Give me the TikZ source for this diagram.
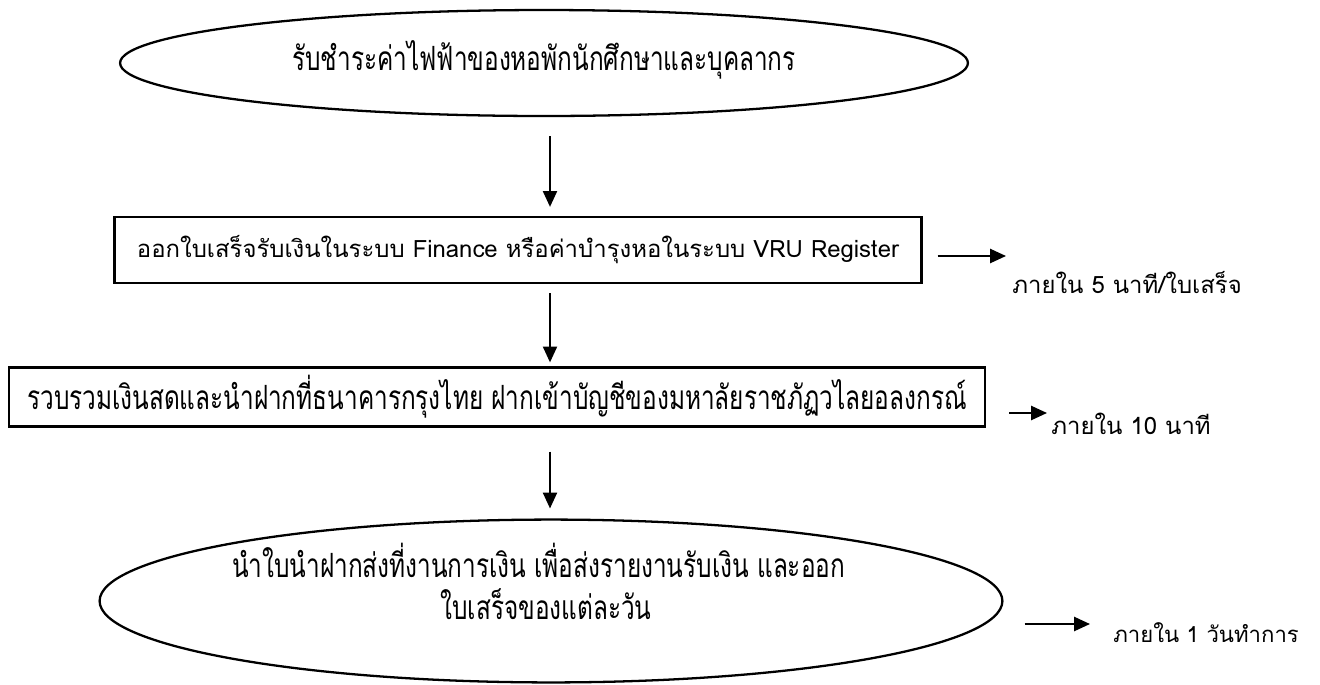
\documentclass[tikz,border=0pt]{standalone}
\usepackage{fontspec}
\setmainfont[Script=Thai]{Loma}
\newfontfamily\condthai[Script=Thai,FakeStretch=0.73]{Loma}
\usetikzlibrary{shapes.geometric,arrows.meta}
\tikzset{
  oval/.style={draw,ellipse,line width=1.3pt,inner sep=0pt,align=center,
    font=\condthai\fontsize{19}{24}\selectfont},
  stepbox/.style={draw,rectangle,line width=1.3pt,inner sep=0pt},
  note/.style={anchor=west,inner sep=0pt,font=\fontsize{13.6}{16}\selectfont},
  flow/.style={-{Triangle[length=9pt,width=8pt]},line width=1.1pt}
}
\begin{document}
\begin{tikzpicture}[x=0.02cm,y=-0.02cm]
      \useasboundingbox (0,0) rectangle (1320,684);
      \draw
        (544,63) node[oval,minimum width=16.96cm,minimum height=2.12cm,
          text depth=9pt] (start)
          {รับชำระค่าไฟฟ้าของหอพักนักศึกษาและบุคลากร}
        (518,250) node[stepbox,minimum width=16.14cm,minimum height=1.32cm,
          font=\fontsize{13.6}{16}\selectfont] (issue)
          {ออกใบเสร็จรับเงินในระบบ Finance หรือค่าบำรุงหอในระบบ VRU Register}
        (497,397) node[stepbox,minimum width=19.52cm,minimum height=1.18cm,
          font=\condthai\fontsize{19}{21}\selectfont] (deposit)
          {รวบรวมเงินสดและนำฝากที่ธนาคารกรุงไทย ฝากเข้าบัญชีของมหาลัยราชภัฏวไลยอลงกรณ์}
        (551,601) node[oval,minimum width=18.06cm,minimum height=3.1cm,
          text depth=22pt] (report)
          {นำใบนำฝากส่งที่งานการเงิน เพื่อส่งรายงานรับเงิน และออก\hspace*{0.5cm}\\
           ใบเสร็จของแต่ละวัน\hspace*{0.2cm}}
        (1012,283) node[note] (t5) {ภายใน 5 นาที/ใบเสร็จ}
        (1051,424) node[note] (t10) {ภายใน 10 นาที}
        (1113,633) node[note,font=\fontsize{12.6}{15}\selectfont] (t1d) {ภายใน 1 วันทำการ};
      \coordinate (axis) at (550,0);
      \coordinate (e5) at (1006,256);
      \coordinate (e10) at (1047,413);
      \coordinate (e1d) at (1090,624);
      \begin{scope}[flow]
        \draw[shorten <=0.38cm,shorten >=0.18cm] (start.south -| axis) to (issue.north -| axis);
        \draw[shorten <=0.18cm,shorten >=0.08cm] (issue.south -| axis) to (deposit.north -| axis);
        \draw[shorten <=0.48cm,shorten >=0.2cm] (deposit.south -| axis) to (report.north -| axis);
        \draw[shorten <=0.3cm] (issue.east |- e5) to (e5);
        \draw[shorten <=0.46cm] (deposit.east |- e10) to (e10);
        \draw[shorten <=0.42cm] (report.east |- e1d) to (e1d);
      \end{scope}
    \end{tikzpicture}
\end{document}
